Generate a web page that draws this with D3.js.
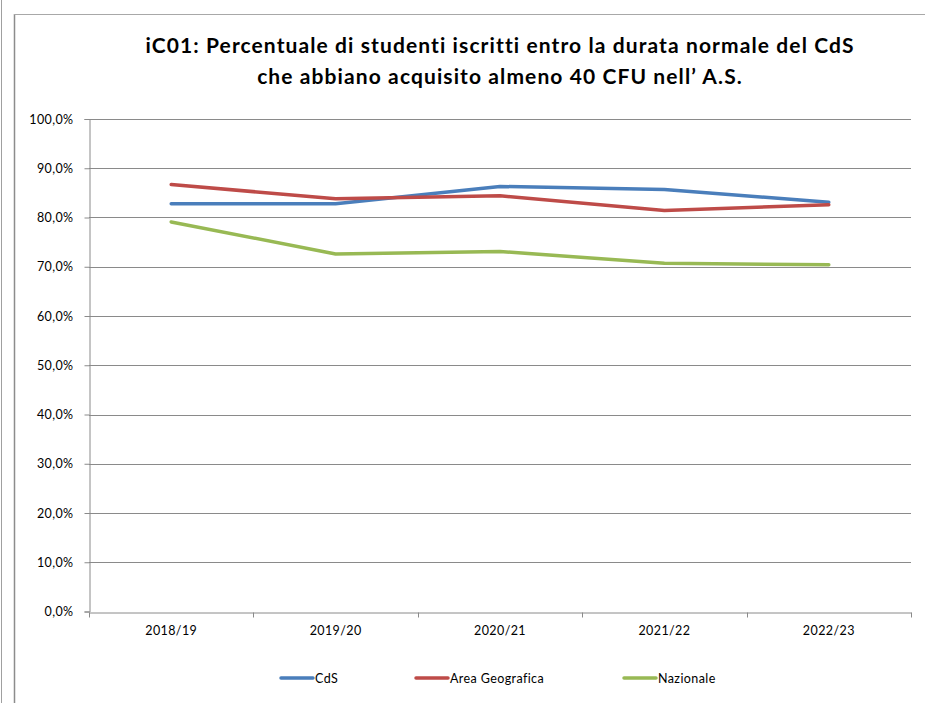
<!DOCTYPE html>
<html>
<head>
<meta charset="utf-8">
<script src="https://cdn.jsdelivr.net/npm/d3@7"></script>
<style>
  html, body { margin: 0; padding: 0; background: #fff; }
  svg { display: block; }
  text { font-family: Lato, "Open Sans", sans-serif; fill: #000; }
</style>
</head>
<body>
<svg id="chart" width="925" height="703"></svg>
<script>
const categories = ["2018/19", "2019/20", "2020/21", "2021/22", "2022/23"];
const cdsValues = [82.8, 82.8, 86.3, 85.7, 83.1];
const areaValues = [86.7, 83.8, 84.4, 81.4, 82.6];
const nazValues = [79.1, 72.6, 73.1, 70.7, 70.4];
const yTicks = [0, 10, 20, 30, 40, 50, 60, 70, 80, 90, 100];
const seriesNames = ["CdS", "Area Geografica", "Nazionale"];
const seriesColors = ["#4A7EBB", "#BE4B48", "#98B954"];
const titleLines = [
  "iC01: Percentuale di studenti iscritti entro la durata normale del CdS",
  "che abbiano acquisito almeno 40 CFU nell\u2019 A.S."
];

const series = [cdsValues, areaValues, nazValues].map((v, i) => ({
  name: seriesNames[i], color: seriesColors[i], values: v
}));

const svg = d3.select("#chart");
const W = 925, H = 703;
const plot = { left: 89, right: 911, top: 119, bottom: 611.5 };
const smallFont = 12.5, smallSpacing = 0.4;

// outer frame
svg.append("line").attr("x1", 1.5).attr("x2", 1.5).attr("y1", 0).attr("y2", H)
  .attr("stroke", "#a0a0a0").attr("stroke-width", 1);
svg.append("line").attr("x1", 14.5).attr("x2", 14.5).attr("y1", 14).attr("y2", H)
  .attr("stroke", "#8c8c8c").attr("stroke-width", 1.5);
svg.append("line").attr("x1", 14).attr("x2", W).attr("y1", 14.5).attr("y2", 14.5)
  .attr("stroke", "#a8a8a8").attr("stroke-width", 1);

// title
const title = svg.append("text").attr("text-anchor", "middle")
  .attr("font-weight", "bold").attr("font-size", 21).attr("letter-spacing", 1.1);
titleLines.forEach((t, i) => {
  title.append("tspan").attr("x", 500).attr("y", 53 + i * 31).text(t);
});

const x = d3.scaleBand().domain(categories).range([plot.left, plot.right]).padding(0);
const y = d3.scaleLinear().domain([0, 100]).range([plot.bottom, plot.top]);

// gridlines
svg.append("g").selectAll("line").data(yTicks.filter(d => d > 0)).join("line")
  .attr("x1", plot.left).attr("x2", plot.right)
  .attr("y1", d => Math.round(y(d)) + 0.5).attr("y2", d => Math.round(y(d)) + 0.5)
  .attr("stroke", "#8a8a8a").attr("stroke-width", 1);

// y axis
const yAxis = svg.append("g").attr("transform", `translate(${plot.left + 0.5},0)`)
  .call(d3.axisLeft(y).tickValues(yTicks).tickSize(5).tickPadding(11)
    .tickFormat(d => d3.format(".1f")(d).replace(".", ",") + "%"));
yAxis.select(".domain").attr("stroke", "#8a8a8a");
yAxis.selectAll(".tick line").attr("stroke", "#8a8a8a");
yAxis.selectAll("text").attr("font-size", smallFont).attr("letter-spacing", smallSpacing)
  .style("font-family", "Lato, sans-serif").attr("fill", "#000");

// x axis
const xAxis = svg.append("g").attr("transform", `translate(0,${Math.round(plot.bottom) + 0.5})`)
  .call(d3.axisBottom(x).tickSize(0).tickPadding(14));
xAxis.select(".domain").attr("stroke", "#8a8a8a");
xAxis.selectAll("text").attr("font-size", smallFont).attr("letter-spacing", smallSpacing)
  .style("font-family", "Lato, sans-serif").attr("fill", "#000");
// category boundary ticks
const bounds = categories.map(c => x(c)).concat([plot.right]);
xAxis.append("g").selectAll("line").data(bounds).join("line")
  .attr("x1", d => Math.round(d) + 0.5).attr("x2", d => Math.round(d) + 0.5)
  .attr("y1", 0).attr("y2", 5).attr("stroke", "#8a8a8a");

// lines
const line = d3.line().x((d, i) => x(categories[i]) + x.bandwidth() / 2).y(d => y(d));
svg.append("g").selectAll("path").data(series).join("path")
  .attr("d", s => line(s.values))
  .attr("fill", "none").attr("stroke", s => s.color)
  .attr("stroke-width", 3.5).attr("stroke-linejoin", "round").attr("stroke-linecap", "round");

// legend
const legendX = [281, 416, 624];
const lg = svg.append("g").selectAll("g").data(series).join("g")
  .attr("transform", (s, i) => `translate(${legendX[i]},678)`);
lg.append("line").attr("x1", 0).attr("x2", 32).attr("y1", 0).attr("y2", 0)
  .attr("stroke", s => s.color).attr("stroke-width", 3.5).attr("stroke-linecap", "round");
lg.append("text").attr("x", 34).attr("y", 4.5).attr("font-size", smallFont)
  .attr("letter-spacing", smallSpacing).text(s => s.name);
</script>
</body>
</html>
